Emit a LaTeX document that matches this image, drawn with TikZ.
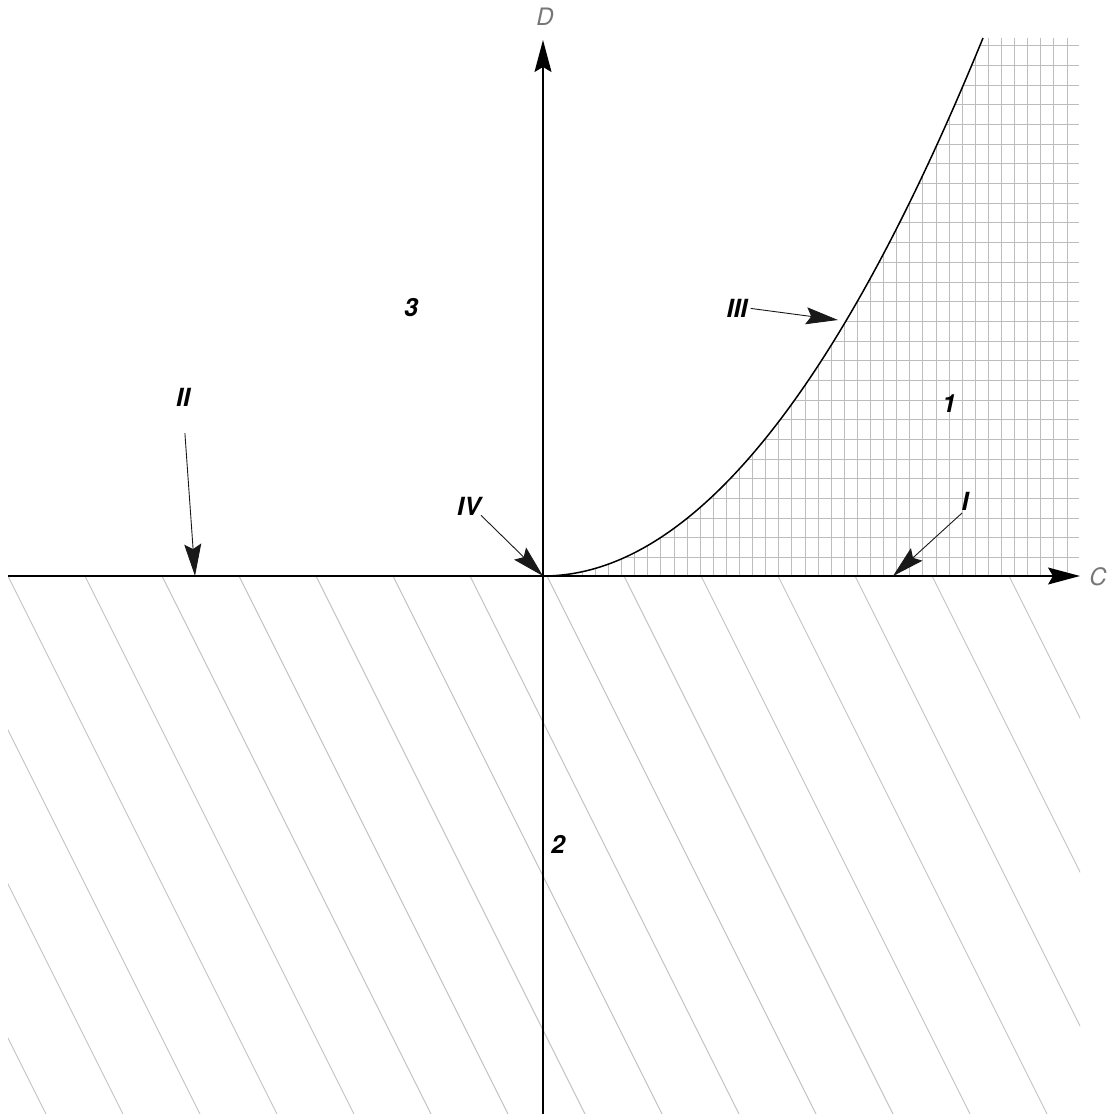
\documentclass[tikz,border=0pt]{standalone}
\usepackage{fontspec}
\setsansfont{TeX Gyre Heros}
\usepackage{tikz}
\usetikzlibrary{arrows.meta}
\definecolor{gridgray}{HTML}{BDBDBD}
\definecolor{hatchgray}{HTML}{C2C2C2}
\definecolor{axislab}{HTML}{767676}

\begin{document}
\begin{tikzpicture}[
  x=1pt,y=-1pt,
  every node/.style={inner sep=0pt},
  tag/.style={font=\fontsize{25}{29}\selectfont\sffamily\bfseries\itshape},
  axlab/.style={font=\fontsize{24}{28}\selectfont\sffamily\itshape,text=axislab},
  axis/.style={-{Stealth[length=32pt,width=17pt,inset=5pt]},line width=1.2pt},
  ptr/.style={-{Stealth[length=32pt,width=17pt,inset=5pt]},line width=0.9pt,black!90},
  gridln/.style={gridgray,line width=0.9pt},
  hatch/.style={hatchgray,line width=0.9pt}
]
\useasboundingbox (0,0) rectangle (1107,1114);

% Points on the axes
\coordinate (O)  at (543,576);
\coordinate (xl) at (8,576);
\coordinate (xr) at (1080,576);
\coordinate (yb) at (543,1114);
\coordinate (yt) at (543,40);
\coordinate (top) at (983,38);

% LOWER HALF: hatching
\begin{scope}
  \clip (8,576) rectangle (1080,1114);
  \foreach \k in {-8,...,14}
    \draw[hatch] ({8+77*\k},576) -- ++(290,580);
\end{scope}

% RIGHT: grid under the curve
\begin{scope}
  \clip (O) .. controls (689.7,576) and (836.3,396.7) .. (top)
        -- (1079,38) -- (1079,576) -- cycle;
  \foreach \k in {0,...,40}
    \draw[gridln] ({543+13.1*\k},576) -- ++(0,-540);
  \foreach \k in {0,...,27}
    \draw[gridln] (543,{577-19.67*\k}) -- (1079,{577-19.67*\k});
\end{scope}

% Axes
\draw[axis] (xl) -- (xr);
\draw[axis] (yb) -- (yt);
\node[axlab] (labC) at (1098,577) {C};
\node[axlab] (labD) at (545,17) {D};

% Boundary curve
\draw[line width=1.5pt] (O) .. controls (689.7,576) and (836.3,396.7) .. (top);

% Region numbers
\node[tag] (r3) at (411,308) {3};
\node[tag] (r1) at (949,404) {1};
\node[tag] (r2) at (558,844) {2};

% Pointers
\coordinate (tII)  at (195,576);
\coordinate (tI)   at (893,576);
\coordinate (tIII) at (838,320);

\node[tag] (lII)  at (183,397) {II};
\node[tag] (lIV)  at (469,506) {IV};
\node[tag] (lI)   at (965,501) {I};
\node[tag] (lIII) at (737,308) {III};

\draw[ptr,shorten <=27pt] (lII.south) -- (tII);
\draw[ptr] (lIV.south east) -- (O);
\draw[ptr,shorten <=4pt] (lI.south) -- (tI);
\draw[ptr,shorten <=3pt] (lIII.east) -- (tIII);
\end{tikzpicture}
\end{document}
